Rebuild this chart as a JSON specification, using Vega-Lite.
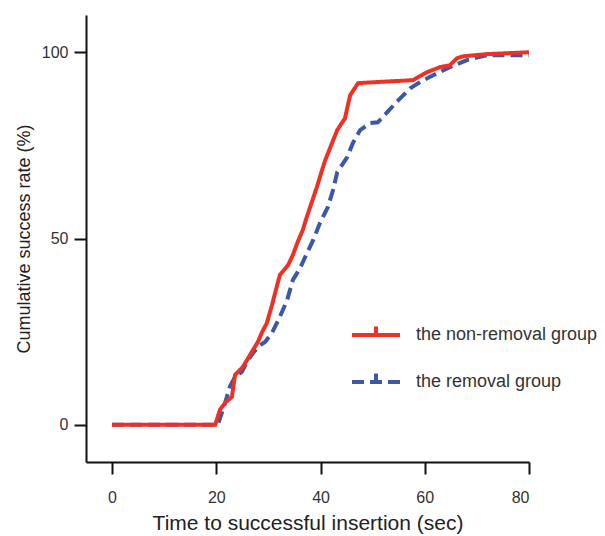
{
  "$schema": "https://vega.github.io/schema/vega-lite/v6.json",
  "autosize": "none",
  "padding": {"left": 86, "top": 15, "right": 76, "bottom": 74},
  "width": 443,
  "height": 447,
  "background": "white",
  "config": {
    "view": {"stroke": null},
    "font": "Liberation Sans"
  },
  "data": {
    "values": [
      {"x": 0, "y": 0, "group": "the non-removal group"},
      {"x": 19.8, "y": 0, "group": "the non-removal group"},
      {"x": 20.7, "y": 4.0, "group": "the non-removal group"},
      {"x": 21.7, "y": 5.9, "group": "the non-removal group"},
      {"x": 23.0, "y": 7.5, "group": "the non-removal group"},
      {"x": 23.6, "y": 13.4, "group": "the non-removal group"},
      {"x": 25.1, "y": 15.5, "group": "the non-removal group"},
      {"x": 26.5, "y": 18.8, "group": "the non-removal group"},
      {"x": 28.0, "y": 22.3, "group": "the non-removal group"},
      {"x": 28.8, "y": 24.9, "group": "the non-removal group"},
      {"x": 29.7, "y": 27.3, "group": "the non-removal group"},
      {"x": 30.7, "y": 32.2, "group": "the non-removal group"},
      {"x": 31.5, "y": 36.5, "group": "the non-removal group"},
      {"x": 32.2, "y": 40.2, "group": "the non-removal group"},
      {"x": 33.8, "y": 42.9, "group": "the non-removal group"},
      {"x": 34.7, "y": 45.6, "group": "the non-removal group"},
      {"x": 35.6, "y": 49.0, "group": "the non-removal group"},
      {"x": 36.6, "y": 52.3, "group": "the non-removal group"},
      {"x": 37.3, "y": 55.5, "group": "the non-removal group"},
      {"x": 38.0, "y": 58.4, "group": "the non-removal group"},
      {"x": 39.3, "y": 63.8, "group": "the non-removal group"},
      {"x": 40.1, "y": 67.5, "group": "the non-removal group"},
      {"x": 40.9, "y": 71.0, "group": "the non-removal group"},
      {"x": 42.2, "y": 75.6, "group": "the non-removal group"},
      {"x": 43.2, "y": 79.1, "group": "the non-removal group"},
      {"x": 44.7, "y": 82.3, "group": "the non-removal group"},
      {"x": 45.2, "y": 85.5, "group": "the non-removal group"},
      {"x": 45.7, "y": 88.5, "group": "the non-removal group"},
      {"x": 47.2, "y": 91.7, "group": "the non-removal group"},
      {"x": 50.8, "y": 92.0, "group": "the non-removal group"},
      {"x": 57.7, "y": 92.5, "group": "the non-removal group"},
      {"x": 59.1, "y": 93.6, "group": "the non-removal group"},
      {"x": 60.4, "y": 94.6, "group": "the non-removal group"},
      {"x": 62.9, "y": 96.0, "group": "the non-removal group"},
      {"x": 64.8, "y": 96.5, "group": "the non-removal group"},
      {"x": 66.2, "y": 98.4, "group": "the non-removal group"},
      {"x": 67.3, "y": 98.9, "group": "the non-removal group"},
      {"x": 71.9, "y": 99.5, "group": "the non-removal group"},
      {"x": 80.0, "y": 100, "group": "the non-removal group"},
      {"x": 0, "y": 0, "group": "the removal group"},
      {"x": 20.3, "y": 0, "group": "the removal group"},
      {"x": 21.7, "y": 5.9, "group": "the removal group"},
      {"x": 22.6, "y": 10.2, "group": "the removal group"},
      {"x": 23.6, "y": 12.9, "group": "the removal group"},
      {"x": 24.9, "y": 14.2, "group": "the removal group"},
      {"x": 26.1, "y": 17.4, "group": "the removal group"},
      {"x": 27.1, "y": 19.3, "group": "the removal group"},
      {"x": 28.0, "y": 20.9, "group": "the removal group"},
      {"x": 29.4, "y": 22.3, "group": "the removal group"},
      {"x": 30.7, "y": 24.7, "group": "the removal group"},
      {"x": 32.2, "y": 29.0, "group": "the removal group"},
      {"x": 33.6, "y": 33.5, "group": "the removal group"},
      {"x": 34.7, "y": 38.9, "group": "the removal group"},
      {"x": 36.1, "y": 42.1, "group": "the removal group"},
      {"x": 37.4, "y": 46.1, "group": "the removal group"},
      {"x": 38.6, "y": 49.6, "group": "the removal group"},
      {"x": 39.9, "y": 54.2, "group": "the removal group"},
      {"x": 41.4, "y": 58.4, "group": "the removal group"},
      {"x": 42.4, "y": 63.0, "group": "the removal group"},
      {"x": 43.2, "y": 67.8, "group": "the removal group"},
      {"x": 45.1, "y": 71.8, "group": "the removal group"},
      {"x": 46.2, "y": 75.6, "group": "the removal group"},
      {"x": 47.6, "y": 79.1, "group": "the removal group"},
      {"x": 49.5, "y": 81.0, "group": "the removal group"},
      {"x": 51.0, "y": 81.2, "group": "the removal group"},
      {"x": 52.8, "y": 83.9, "group": "the removal group"},
      {"x": 54.9, "y": 87.1, "group": "the removal group"},
      {"x": 57.2, "y": 90.3, "group": "the removal group"},
      {"x": 59.1, "y": 92.0, "group": "the removal group"},
      {"x": 62.0, "y": 94.1, "group": "the removal group"},
      {"x": 64.8, "y": 96.0, "group": "the removal group"},
      {"x": 68.1, "y": 97.9, "group": "the removal group"},
      {"x": 71.9, "y": 99.2, "group": "the removal group"},
      {"x": 80.0, "y": 99.2, "group": "the removal group"}
    ]
  },
  "encoding": {
    "x": {
      "field": "x", "type": "quantitative",
      "scale": {"domain": [-5, 80], "nice": false, "zero": false},
      "axis": {
        "values": [0, 20, 40, 60, 80],
        "grid": false,
        "title": "Time to successful insertion (sec)",
        "domainColor": "#111", "domainWidth": 2,
        "tickColor": "#111", "tickWidth": 2, "tickSize": 12,
        "labelFontSize": 16, "labelColor": "#333", "labelPadding": 15,
        "titleFontSize": 21, "titleFontWeight": "normal", "titleColor": "#222", "titlePadding": 7
      }
    },
    "y": {
      "field": "y", "type": "quantitative",
      "scale": {"domain": [-10, 110], "nice": false, "zero": false},
      "axis": {
        "values": [0, 50, 100],
        "grid": false,
        "title": "Cumulative success rate (%)",
        "domainColor": "#111", "domainWidth": 2,
        "tickColor": "#111", "tickWidth": 2, "tickSize": 12,
        "labelFontSize": 16, "labelColor": "#333", "labelPadding": 6,
        "titleFontSize": 18, "titleFontWeight": "normal", "titleColor": "#222", "titlePadding": 8
      }
    },
    "color": {
      "field": "group", "type": "nominal",
      "scale": {"domain": ["the non-removal group", "the removal group"], "range": ["#ee3124", "#3b57a7"]},
      "legend": {
        "title": null,
        "orient": "none",
        "legendX": 264,
        "legendY": 294,
        "symbolType": "M-1,0H1M0,0V-0.35",
        "symbolSize": 2304,
        "symbolStrokeWidth": 4,
        "labelFontSize": 18,
        "labelColor": "#333",
        "labelOffset": 14,
        "labelLimit": 300,
        "rowPadding": 12,
        "padding": 0
      }
    },
    "strokeDash": {
      "field": "group", "type": "nominal",
      "scale": {"domain": ["the non-removal group", "the removal group"], "range": [[1, 0], [12, 6]]},
      "legend": {
        "title": null,
        "orient": "none",
        "legendX": 264,
        "legendY": 294,
        "symbolType": "M-1,0H1M0,0V-0.35",
        "symbolSize": 2304,
        "symbolStrokeWidth": 4,
        "labelFontSize": 18,
        "labelColor": "#333",
        "labelOffset": 14,
        "labelLimit": 300,
        "rowPadding": 12,
        "padding": 0
      }
    }
  },
  "layer": [
    {
      "transform": [{"filter": "datum.group === 'the removal group'"}],
      "mark": {"type": "line", "interpolate": "linear", "strokeWidth": 4, "strokeCap": "butt"}
    },
    {
      "transform": [{"filter": "datum.group === 'the non-removal group'"}],
      "mark": {"type": "line", "interpolate": "linear", "strokeWidth": 4}
    }
  ]
}
